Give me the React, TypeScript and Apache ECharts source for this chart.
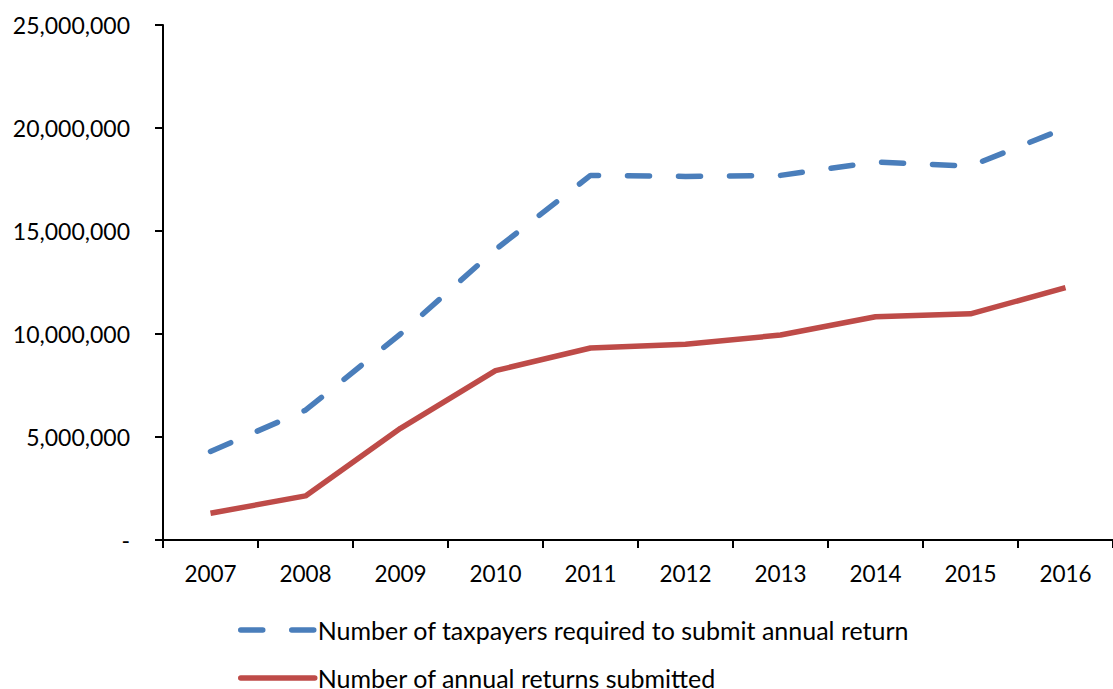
import React, { useEffect, useRef } from "react";
import * as echarts from "echarts";

const years = ["2007", "2008", "2009", "2010", "2011", "2012", "2013", "2014", "2015", "2016"];
const requiredTaxpayers = [4300000, 6300000, 10000000, 14100000, 17700000, 17650000, 17700000, 18350000, 18150000, 20000000];
const returnsSubmitted = [1300000, 2140000, 5420000, 8220000, 9320000, 9500000, 9950000, 10840000, 10980000, 12250000];
const seriesNames = ["Number of taxpayers required to submit annual return", "Number of annual returns submitted"];

const FONT = "Lato";

function fmt(v: number): string {
  if (v === 0) return "-";
  return v.toString().replace(/\B(?=(\d{3})+(?!\d))/g, ",");
}

export default function App() {
  const ref = useRef<HTMLDivElement>(null);
  useEffect(() => {
    document.body.style.margin = "0";
    if (!ref.current) return;
    const chart = echarts.init(ref.current, null, { renderer: "svg" });
    chart.setOption({
      animation: false,
      backgroundColor: "#ffffff",
      textStyle: { fontFamily: FONT },
      grid: { left: 163, top: 25, width: 958, height: 515, containLabel: false },
      xAxis: {
        type: "category",
        data: years,
        boundaryGap: true,
        axisLine: { show: true, lineStyle: { color: "#000", width: 2 } },
        axisTick: { show: true, length: 8, lineStyle: { color: "#000", width: 2 } },
        axisLabel: { color: "#000", fontSize: 22.5, fontFamily: FONT, margin: 22 },
        splitLine: { show: false },
      },
      yAxis: {
        type: "value",
        min: 0,
        max: 25000000,
        interval: 5000000,
        axisLine: { show: true, lineStyle: { color: "#000", width: 2 } },
        axisTick: { show: true, length: 8, lineStyle: { color: "#000", width: 2 } },
        axisLabel: { color: "#000", fontSize: 23, fontFamily: FONT, margin: 33, formatter: (v: number) => fmt(v) },
        splitLine: { show: false },
      },
      legend: {
        orient: "vertical",
        left: 238,
        top: 617,
        height: 90,
        padding: 0,
        itemWidth: 74,
        itemHeight: 26,
        itemGap: 22,
        itemStyle: { opacity: 0 },
        lineStyle: { width: 5.5, cap: "round" },
        textStyle: { color: "#000", fontSize: 25, lineHeight: 26, fontFamily: FONT, padding: [0, 0, 0, -2] },
        data: seriesNames,
      },
      series: [
        {
          name: seriesNames[0],
          type: "line",
          data: requiredTaxpayers,
          symbol: "none",
          lineStyle: { color: "#4A7EBB", width: 5.5, type: [22, 29], cap: "round" },
          itemStyle: { color: "#4A7EBB" },
        },
        {
          name: seriesNames[1],
          type: "line",
          data: returnsSubmitted,
          symbol: "none",
          lineStyle: { color: "#BE4B48", width: 5.5, type: "solid" },
          itemStyle: { color: "#BE4B48" },
        },
      ],
    });
    return () => chart.dispose();
  }, []);
  return <div ref={ref} style={{ width: 1113, height: 689 }} />;
}
